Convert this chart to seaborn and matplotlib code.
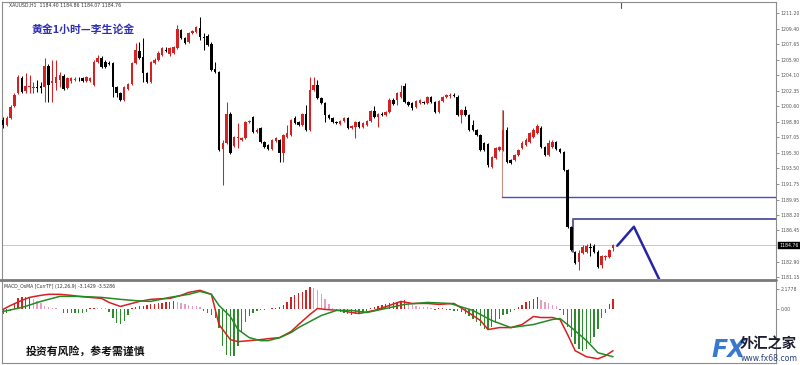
import numpy as np
import pandas as pd
import matplotlib
matplotlib.use("Agg")
import matplotlib.pyplot as plt
import seaborn as sns

# ---------------- data ----------------
opens = [
    1199.02, 1198.45, 1199.25, 1200.62, 1202.10, 1203.80, 1202.32, 1202.78, 1202.66, 1202.78,
    1202.89, 1202.78, 1205.17, 1203.23, 1203.23, 1203.57, 1204.03, 1202.66, 1203.46, 1203.63,
    1203.69, 1203.80, 1203.46, 1203.46, 1203.00, 1205.62, 1206.08, 1205.62, 1205.51, 1205.51,
    1202.78, 1202.10, 1201.30, 1202.55, 1203.12, 1205.51, 1206.87, 1206.19, 1204.37, 1203.35,
    1205.51, 1205.85, 1206.42, 1206.99, 1206.53, 1206.65, 1207.22, 1209.27, 1208.36, 1207.90,
    1208.93, 1209.04, 1209.50, 1208.47, 1208.59, 1207.67, 1204.83, 1204.48, 1195.72, 1196.40,
    1199.70, 1196.06, 1196.97, 1196.74, 1196.97, 1198.74, 1199.36, 1197.65, 1198.11, 1196.52,
    1196.17, 1195.72, 1196.63, 1196.74, 1195.26, 1197.09, 1197.31, 1199.25, 1198.79, 1198.45,
    1199.70, 1197.88, 1202.44, 1203.00, 1201.53, 1200.96, 1199.59, 1199.25, 1198.79, 1198.57,
    1198.91, 1199.25, 1198.11, 1198.23, 1198.79, 1198.23, 1198.45, 1198.91, 1200.05, 1199.36,
    1199.70, 1199.59, 1199.93, 1201.30, 1201.30, 1201.64, 1202.89, 1201.07, 1200.96, 1200.50,
    1200.96, 1201.07, 1200.96, 1201.64, 1201.07, 1199.93, 1201.19, 1201.64, 1201.70, 1201.87,
    1201.64, 1199.59, 1200.16, 1199.59, 1198.45, 1197.88, 1197.31, 1196.40, 1196.29, 1193.67,
    1194.70, 1195.61, 1195.61, 1197.88, 1194.47, 1194.47, 1195.04, 1195.83, 1196.17, 1196.52,
    1197.09, 1197.54, 1198.11, 1195.95, 1195.04, 1195.95, 1196.52, 1195.72, 1195.38, 1193.33,
    1186.84, 1183.99, 1182.85, 1183.88, 1183.99, 1184.56, 1184.67, 1183.99, 1182.51, 1183.42,
    1183.42, 1184.40]
highs = [
    1199.36, 1199.48, 1200.73, 1202.10, 1204.14, 1204.03, 1204.37, 1204.14, 1203.35, 1203.57,
    1203.35, 1206.08, 1205.40, 1205.85, 1205.85, 1204.48, 1204.26, 1203.91, 1203.91, 1203.91,
    1203.91, 1203.91, 1204.03, 1203.91, 1205.85, 1206.42, 1206.31, 1205.85, 1205.74, 1205.62,
    1202.89, 1202.21, 1202.89, 1203.23, 1205.62, 1207.79, 1207.90, 1208.36, 1204.48, 1205.74,
    1206.08, 1206.87, 1207.33, 1207.33, 1207.33, 1207.45, 1209.83, 1209.38, 1208.47, 1209.04,
    1209.27, 1209.72, 1210.74, 1208.93, 1208.81, 1207.90, 1205.62, 1204.60, 1196.74, 1201.07,
    1199.93, 1197.20, 1198.68, 1197.09, 1198.91, 1199.02, 1199.48, 1198.11, 1198.23, 1196.63,
    1196.29, 1196.86, 1197.09, 1196.86, 1197.43, 1198.45, 1199.14, 1199.48, 1198.91, 1199.82,
    1200.73, 1203.91, 1203.91, 1203.57, 1201.64, 1201.07, 1199.70, 1199.36, 1198.91, 1199.02,
    1199.36, 1199.36, 1198.45, 1198.91, 1198.91, 1198.79, 1199.02, 1200.16, 1200.62, 1199.82,
    1199.93, 1200.05, 1201.53, 1201.53, 1202.21, 1203.00, 1203.23, 1201.19, 1201.07, 1201.30,
    1201.41, 1201.19, 1201.75, 1201.75, 1201.19, 1201.30, 1201.75, 1201.98, 1202.10, 1202.10,
    1201.87, 1200.27, 1200.62, 1199.70, 1199.02, 1198.00, 1197.43, 1196.52, 1196.40, 1194.92,
    1195.95, 1196.06, 1200.16, 1198.23, 1194.58, 1195.15, 1195.72, 1196.63, 1196.97, 1197.65,
    1198.11, 1198.57, 1198.34, 1196.06, 1196.74, 1196.74, 1196.63, 1195.83, 1195.49, 1193.44,
    1186.96, 1184.10, 1184.22, 1184.79, 1184.90, 1185.01, 1184.90, 1184.22, 1183.65, 1183.65,
    1184.33, 1184.86]
lows = [
    1198.11, 1198.34, 1199.14, 1200.50, 1201.98, 1202.10, 1202.10, 1202.10, 1202.10, 1202.21,
    1202.10, 1201.07, 1201.07, 1201.07, 1202.44, 1202.78, 1202.44, 1202.55, 1203.23, 1203.46,
    1203.46, 1203.35, 1203.35, 1203.35, 1202.89, 1205.51, 1204.94, 1204.94, 1205.28, 1201.64,
    1201.64, 1201.19, 1201.19, 1202.44, 1203.00, 1205.40, 1205.97, 1203.35, 1203.23, 1203.23,
    1205.40, 1205.74, 1206.31, 1206.76, 1206.31, 1206.53, 1207.10, 1208.25, 1207.67, 1207.79,
    1208.81, 1208.93, 1208.13, 1206.99, 1207.45, 1204.60, 1204.37, 1195.49, 1191.62, 1196.29,
    1195.15, 1195.95, 1195.83, 1196.63, 1196.86, 1198.68, 1197.54, 1197.54, 1196.40, 1195.83,
    1195.61, 1195.61, 1196.52, 1194.24, 1194.24, 1196.97, 1197.20, 1198.57, 1198.34, 1198.34,
    1197.77, 1197.77, 1202.32, 1201.41, 1200.84, 1198.79, 1199.14, 1198.68, 1198.57, 1198.45,
    1198.79, 1198.00, 1198.00, 1196.97, 1198.11, 1198.11, 1198.34, 1198.79, 1199.25, 1198.23,
    1199.48, 1199.48, 1199.82, 1200.73, 1200.73, 1201.53, 1200.96, 1200.62, 1200.16, 1200.39,
    1200.84, 1200.84, 1200.84, 1200.96, 1199.82, 1199.82, 1201.07, 1201.53, 1201.53, 1201.64,
    1199.48, 1198.68, 1199.48, 1197.77, 1197.77, 1197.20, 1195.49, 1195.49, 1193.67, 1193.56,
    1194.58, 1195.49, 1195.49, 1194.13, 1194.01, 1194.35, 1194.92, 1195.72, 1196.06, 1196.40,
    1196.97, 1197.43, 1195.83, 1194.92, 1194.92, 1195.83, 1195.61, 1195.26, 1193.22, 1186.73,
    1184.10, 1182.62, 1181.95, 1183.76, 1183.88, 1183.54, 1183.88, 1182.17, 1182.17, 1183.08,
    1183.31, 1184.07]
closes = [
    1198.45, 1199.25, 1200.50, 1201.87, 1203.91, 1202.21, 1202.89, 1202.89, 1202.72, 1202.72,
    1202.66, 1205.17, 1203.00, 1203.46, 1203.91, 1204.14, 1202.55, 1203.80, 1203.80, 1203.69,
    1203.65, 1203.46, 1203.91, 1203.80, 1205.62, 1206.08, 1205.06, 1205.06, 1205.45, 1202.78,
    1202.10, 1201.30, 1202.78, 1203.12, 1205.51, 1206.99, 1206.08, 1204.37, 1203.35, 1205.62,
    1205.85, 1206.65, 1207.22, 1206.93, 1207.22, 1207.33, 1209.38, 1208.36, 1207.79, 1208.93,
    1209.15, 1209.61, 1208.47, 1208.36, 1207.56, 1204.71, 1204.48, 1195.61, 1196.40, 1199.70,
    1195.26, 1197.09, 1197.09, 1196.97, 1198.79, 1198.85, 1197.65, 1197.88, 1196.52, 1195.95,
    1195.72, 1196.74, 1196.97, 1195.26, 1197.31, 1197.54, 1199.02, 1198.68, 1198.45, 1199.70,
    1197.88, 1202.44, 1203.00, 1201.53, 1200.96, 1199.59, 1199.25, 1198.79, 1198.68, 1198.91,
    1199.25, 1198.11, 1198.34, 1198.79, 1198.23, 1198.68, 1198.91, 1200.05, 1199.36, 1199.70,
    1199.65, 1199.93, 1201.30, 1200.84, 1202.10, 1202.21, 1201.07, 1200.73, 1200.39, 1201.19,
    1201.30, 1200.96, 1201.64, 1201.07, 1199.93, 1201.19, 1201.64, 1201.87, 1201.87, 1201.75,
    1199.59, 1200.16, 1199.59, 1197.88, 1197.88, 1197.31, 1195.61, 1195.61, 1193.90, 1194.81,
    1195.83, 1195.95, 1197.88, 1194.24, 1194.13, 1195.04, 1195.61, 1196.40, 1196.74, 1197.54,
    1197.88, 1198.34, 1195.95, 1195.04, 1196.40, 1196.52, 1195.72, 1195.38, 1193.33, 1186.84,
    1184.22, 1182.74, 1183.88, 1184.56, 1184.67, 1184.45, 1183.99, 1182.28, 1183.54, 1183.54,
    1184.22, 1184.76]

osma = [
    -0.5, -0.4, -0.2,
    0.65, 1.19, 1.3, 1.3, 1.32,
    1.1, 0.86, 0.65, 0.3, 0.2, 0.1,
    0.05, -0.05,
    -0.4, -0.45, -0.45, -0.45, -0.45, -0.4, -0.3,
    0.1, 0.15, 0.12, 0.1, 0.05,
    -0.3, -1.0, -1.5, -1.6, -1.3, -0.6,
    0.1, 0.2, 0.3, 0.35, 0.4, 0.5, 0.55, 0.6, 0.65, 0.7, 0.8, 0.85,
    0.7, 0.6, 0.5, 0.4, 0.35, 0.3, 0.2,
    -0.2, -0.4, -0.6, -1.0,
    -2.0, -4.0, -4.9, -5.1, -5.1, -4.0, -2.5, -1.4, -0.8, -0.4, -0.2, -0.1, -0.1, -0.05,
    0.1, 0.15,
    0.25, 0.4, 0.8, 1.3, 1.5, 1.7, 1.8, 2.0, 2.4,
    2.3, 2.0, 1.6, 1.1, 0.55, 0.15,
    -0.1, -0.3, -0.45, -0.55, -0.6, -0.55, -0.5, -0.4, -0.2,
    0.1, 0.2, 0.3, 0.4, 0.5, 0.6, 0.7, 0.8, 0.9, 0.95,
    0.6, 0.4, 0.3, 0.25, 0.22, 0.18, 0.15,
    -0.1, 0.05, 0.05, -0.1, -0.15, -0.2,
    -0.25, -0.3, -0.5, -0.8, -1.1, -1.4, -1.8, -2.1, -2.3,
    -1.9, -1.5, -1.1, -0.7, -0.5, -0.3, -0.1,
    0.25, 0.45, 0.7, 0.9, 1.1, 1.25,
    1.0, 0.8, 0.6, 0.45, 0.3,
    -0.1, -0.7, -1.9, -3.0, -3.8, -4.3, -4.5, -4.3, -3.7, -3.0, -2.1, -1.0, -0.4,
    0.5, 1.06]

macd_idx = [0, 2, 5, 7, 10, 12, 15, 18, 20, 23, 26, 28, 31, 34, 36, 39, 41, 44, 47, 49,
            52, 55, 56, 57, 59, 60, 62, 65, 68, 70, 73, 76, 78, 81, 83, 85, 89, 92, 94, 98,
            102, 105, 108, 112, 115, 119, 122, 126, 128, 131, 134, 137, 140, 142, 145, 147,
            149, 151, 154, 157, 159, 161]
macd_vals = [-0.05, 0.38, 0.92, 1.24, 1.46, 1.57, 1.57, 1.46, 1.35, 1.24, 1.13, 0.70, 0.27,
             0.59, 0.81, 1.03, 1.08, 1.13, 1.46, 1.78, 2.0, 1.57, -0.05, -1.67, -2.75, -3.29,
             -3.51, -3.4, -3.29, -3.19, -3.08, -2.43, -1.67, -0.59, 0.05, -0.05, -0.16, -0.38,
             -0.49, -0.16, 0.38, 0.81, 0.59, 0.59, 0.49, 0.59, -0.16, -1.24, -2.21, -2.0, -2.0,
             -1.67, -0.81, -0.92, -0.92, -1.13, -2.75, -4.48, -5.13, -5.35, -5.02, -4.48]
signal_idx = [0, 5, 10, 15, 20, 26, 31, 36, 39, 44, 49, 52, 55, 57, 60, 62, 65, 68, 70, 73,
              76, 78, 81, 84, 88, 92, 96, 101, 106, 112, 118, 124, 129, 134, 140, 145, 147,
              150, 154, 157, 160, 161]
signal_vals = [-0.27, 0.16, 0.81, 1.35, 1.35, 1.24, 1.03, 0.86, 0.81, 1.24, 1.57, 1.89, 1.57,
               0.38, -0.81, -2.2, -3.08, -3.4, -3.4, -3.08, -2.54, -2.0, -1.35, -0.7, -0.16,
               -0.16, -0.38, 0.05, 0.49, 0.70, 0.59, -0.16, -1.24, -2.0, -1.67, -1.13, -1.03,
               -2.0, -3.4, -4.7, -5.02, -5.13]

price_ticks = [1211.20, 1209.40, 1207.65, 1205.90, 1204.10, 1202.35, 1200.60, 1198.80,
               1197.05, 1195.30, 1193.50, 1191.75, 1189.95, 1188.20, 1186.45, 1182.90, 1181.15]
last_price = 1184.76
macd_ticks = [2.1778, 0.0]
macd_tick_labels = ["2.1778", "0.00"]

# drawn objects
level1_price, level1_start, level1_top = 1190.29, 131.7, 1200.16
level2_price, level2_start, level2_bottom = 1187.70, 150.4, 1184.0
zigzag_idx = [162.1, 166.5, 174.0]
zigzag_price = [1184.70, 1186.87, 1180.15]

header = "XAUUSD,H1  1184.40 1184.86 1184.07 1184.76"
macd_header = "MACD_OsMA [CurrTF] (12,26,9) -3.1429 -3.5286"
title = "黄金1小时—李生论金"
warning = "投资有风险，参考需谨慎"

# ---------------- style ----------------
sns.set_style("white")
plt.rcParams['font.family'] = ['DejaVu Sans']
RED = "#d42222"
BLACK = "#000000"
PINK = "#e89cc4"
GREEN = "#2d8a2d"
GRID = "#8c8c8c"

W, H = 800, 365
fig = plt.figure(figsize=(W / 100, H / 100), dpi=100)
fig.patch.set_facecolor("white")


def fx(px):
    return px / W


def fy(py):
    return 1 - py / H


ax = fig.add_axes([fx(2), fy(279), fx(776) - fx(2), fy(2) - fy(279)])
ax2 = fig.add_axes([fx(2), fy(363), fx(776) - fx(2), fy(281) - fy(363)])

XMIN, XMAX = -0.26, 204.0
idx = np.arange(len(closes))
o = np.array(opens)
c = np.array(closes)
up = c >= o
cols = np.where(up, RED, BLACK)

# candles
ax.axhline(last_price, color="#c9c9c9", lw=0.7, zorder=0)
ax.vlines(idx, lows, highs, colors=cols, lw=0.75, zorder=2)
h = c - o
small = np.abs(h) < 0.07
heights = np.where(small, 0.07, h)
bottoms = np.where(small, (o + c) / 2 - 0.035, o)
ax.bar(idx, heights, bottom=bottoms, width=0.66, color=cols, linewidth=0, zorder=3)

# drawn lines
ax.plot([level1_start, level1_start], [level1_top, level1_price], color="#c98b80", lw=0.8, zorder=1)
ax.plot([level1_start, XMAX], [level1_price, level1_price], color="#4a4ac4", lw=1.0, zorder=1)
ax.plot([level2_start, level2_start, XMAX], [level2_bottom, level2_price, level2_price],
        color="#5c5ca6", lw=1.4, zorder=1)
ax.plot(zigzag_idx, zigzag_price, color="#2626a4", lw=1.8, zorder=4, clip_on=True)

ax.set_xlim(XMIN, XMAX)
ax.set_ylim(1180.92, 1212.45)
ax.yaxis.tick_right()
ax.set_yticks(price_ticks)
ax.set_yticklabels([f"{p:.2f}" for p in price_ticks])
ax.tick_params(axis="y", direction="out", length=2, width=0.5, colors="#666666",
               labelsize=3.3, pad=1.5, labelcolor="#555555")
ax.set_xticks([])
for s in ["left", "right", "top"]:
    ax.spines[s].set_color(GRID)
    ax.spines[s].set_linewidth(0.8)
ax.spines["bottom"].set_visible(False)
ax.text(1.004, (last_price - 1180.92) / (1212.45 - 1180.92), f"{last_price:.2f}",
        transform=ax.transAxes, fontsize=3.3, color="white", va="center", ha="left",
        bbox=dict(boxstyle="square,pad=0.25", fc="black", ec="black", lw=0.3))
ax.plot([163, 163], [1212.45, 1211.8], color="#555555", lw=0.8, clip_on=False)

# MACD panel
prev = np.concatenate([[osma[0]], osma[:-1]])
osma_arr = np.array(osma)
kinds = np.where(osma_arr >= 0, np.where(osma_arr >= prev, "up", "down"), "neg")
df_h = pd.DataFrame({"i": idx, "v": osma_arr, "kind": kinds})
sns.barplot(data=df_h, x="i", y="v", hue="kind", native_scale=True, dodge=False,
            palette={"up": RED, "down": PINK, "neg": GREEN}, width=0.36, saturation=1,
            errorbar=None, legend=False, linewidth=0, ax=ax2)
sns.lineplot(x=macd_idx, y=macd_vals, color="#d82020", lw=1.1, ax=ax2, zorder=5)
sns.lineplot(x=signal_idx, y=signal_vals, color="#228b22", lw=1.1, ax=ax2, zorder=5)

ax2.set_xlim(XMIN, XMAX)
ax2.set_ylim(-5.8, 3.0)
ax2.set_xlabel("")
ax2.set_ylabel("")
ax2.yaxis.tick_right()
ax2.set_yticks(macd_ticks)
ax2.set_yticklabels(macd_tick_labels)
ax2.tick_params(axis="y", direction="out", length=2, width=0.5, colors="#666666",
                labelsize=3.3, pad=1.5, labelcolor="#555555")
ax2.set_xticks(np.arange(7.6, 204, 8))
ax2.set_xticklabels([])
ax2.tick_params(axis="x", direction="out", length=2, width=0.5, colors="#777777")
for s in ["left", "right", "bottom"]:
    ax2.spines[s].set_color(GRID)
    ax2.spines[s].set_linewidth(0.8)
ax2.spines["top"].set_visible(False)

# separator between panels
fig.add_artist(plt.Line2D([fx(0), fx(776)], [fy(280), fy(280)], color="#7a7a7a", lw=2.0))

# texts
fig.text(fx(9), fy(5), header, fontsize=3.3, color="#333333", va="center", ha="left")
fig.text(fx(4), fy(286), macd_header, fontsize=3.3, color="#333333", va="center", ha="left")
fig.text(fx(32), fy(29), title, fontsize=7.8, color="#2f2fb8", fontweight="bold",
         family=["Noto Sans CJK SC", "DejaVu Sans"], va="center", ha="left")
fig.text(fx(26), fy(351), warning, fontsize=7.8, color="#111111", fontweight="bold",
         family=["Noto Sans CJK SC", "DejaVu Sans"], va="center", ha="left")

# watermark
fig.text(fx(711), fy(350), "FX", fontsize=17, color="#3a78d0", fontweight="bold",
         fontstyle="italic", va="center", ha="left")
fig.text(fx(740), fy(345), "外汇之家", fontsize=10.3, color="#1c1c30", fontweight="bold",
         family=["Noto Sans CJK SC", "DejaVu Sans"], va="center", ha="left")
fig.text(fx(741), fy(358.5), "www.fx68.com", fontsize=5.6, color="#2a3f7a",
         va="center", ha="left")

fig.savefig("out.png", dpi=100, facecolor="white")
